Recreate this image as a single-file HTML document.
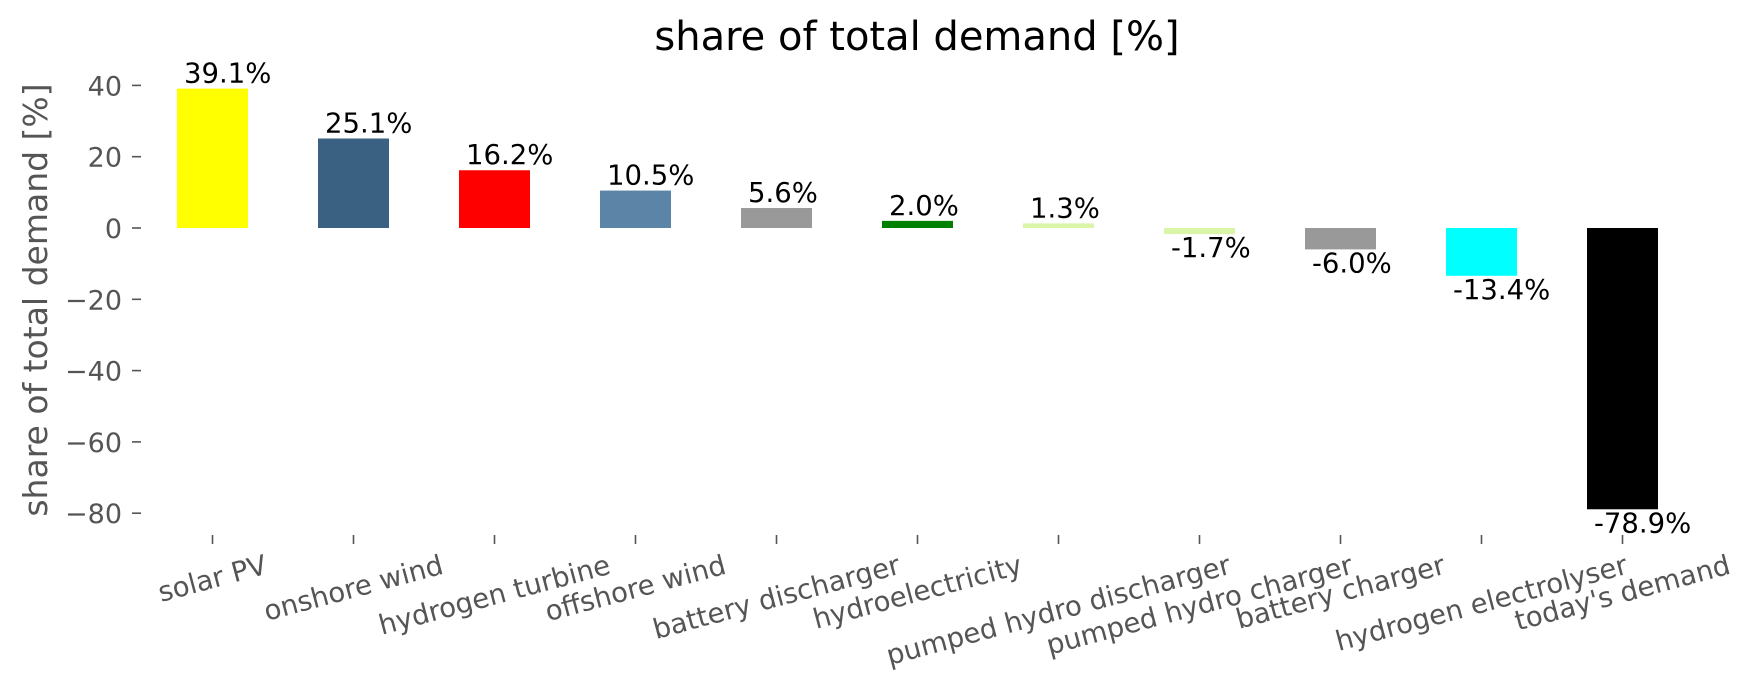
<!DOCTYPE html>
<html><head><meta charset="utf-8"><style>
html,body{margin:0;padding:0;background:#fff;}
svg{display:block;font-family:"DejaVu Sans","Liberation Sans",sans-serif;}
</style></head><body>
<svg id="s" width="1753" height="689" viewBox="0 0 1753 689" xmlns="http://www.w3.org/2000/svg">
<text x="917" y="50" font-size="40" text-anchor="middle" fill="#000">share of total demand [%]</text>
<text transform="translate(47,300) rotate(-90)" font-size="33" text-anchor="middle" fill="#555">share of total demand [%]</text>
<g id="g"></g>
</svg>
<script>
var g=document.getElementById('g'),NS='http://www.w3.org/2000/svg';
function el(t,a,txt){var e=document.createElementNS(NS,t);for(var k in a)e.setAttribute(k,a[k]);if(txt!=null)e.textContent=txt;g.appendChild(e);return e;}
var y0=228,k=3.565;
[40,20,0,-20,-40,-60,-80].forEach(function(v){var y=y0-v*k;
el('line',{x1:132,x2:141,y1:y,y2:y,stroke:'#555','stroke-width':1.6});
el('text',{x:122,y:y+10,'font-size':27,'text-anchor':'end',fill:'#555'},(v<0?'\u2212'+(-v):''+v));});
var d=[['solar PV',39.1,'#ffff00'],['onshore wind',25.1,'#3b6182'],['hydrogen turbine',16.2,'#ff0000'],['offshore wind',10.5,'#5b84a6'],['battery discharger',5.6,'#999999'],['hydroelectricity',2.0,'#008000'],['pumped hydro discharger',1.3,'#dbf5a8'],['pumped hydro charger',-1.7,'#dbf5a8'],['battery charger',-6.0,'#999999'],['hydrogen electrolyser',-13.4,'#00ffff'],["today's demand",-78.9,'#000000']];
d.forEach(function(r,i){var cx=212.5+141*i,w=71,l=cx-w/2,v=r[1],h=Math.abs(v)*k;
var top=v>0?y0-h:y0;el('rect',{x:l,y:top,width:w,height:h,fill:r[2]});
var lab=v.toFixed(1)+'%';
if(v>0)el('text',{x:l+7,y:y0-h-6,'font-size':27.5,fill:'#000'},lab);
else el('text',{x:l+7,y:y0+h+23,'font-size':27.5,fill:'#000'},lab);
el('line',{x1:cx,x2:cx,y1:535,y2:544,stroke:'#555','stroke-width':1.6});
var t=el('text',{x:0,y:0,'font-size':27.5,'text-anchor':'middle','dominant-baseline':'central',fill:'#555'},r[0]);
var L=t.getComputedTextLength(),a=15*Math.PI/180,th=27.5*1.17;
var bh=L*Math.sin(a)+th*Math.cos(a);var cy=549+bh/2;
t.setAttribute('transform','translate('+cx+','+cy+') rotate(-15)');});
</script>
</body></html>
